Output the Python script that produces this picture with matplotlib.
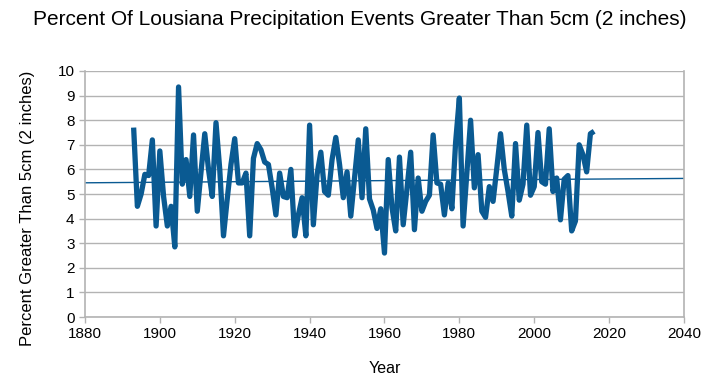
import matplotlib
matplotlib.use("Agg")
import matplotlib.pyplot as plt
import numpy as np

plt.rcParams['font.family'] = ['Liberation Sans', 'DejaVu Sans']

# annual values, 1893-2016
years = np.arange(1893, 2017)
percent = [
    7.7, 4.5, 5.0, 5.8, 5.75, 7.2, 3.7, 6.75, 4.9, 3.7,       # 1893-1902
    4.5, 2.85, 9.35, 5.4, 6.4, 4.9, 7.4, 4.3, 5.9, 7.45,     # 1903-1912
    6.0, 4.9, 7.9, 6.0, 3.3, 4.8, 6.2, 7.25, 5.45, 5.45,     # 1913-1922
    5.85, 3.3, 6.45, 7.05, 6.8, 6.3, 6.2, 5.25, 4.15, 5.85,  # 1923-1932
    4.9, 4.85, 6.0, 3.3, 4.15, 4.85, 3.3, 7.8, 3.75, 5.8,    # 1933-1942
    6.7, 5.1, 4.95, 6.4, 7.3, 6.2, 4.85, 5.9, 4.1, 5.65,     # 1943-1952
    7.2, 4.85, 7.65, 4.8, 4.35, 3.6, 4.4, 2.6, 6.4, 4.45,    # 1953-1962
    3.5, 6.5, 3.75, 5.2, 6.7, 3.55, 5.65, 4.3, 4.7, 4.95,    # 1963-1972
    7.4, 5.45, 5.4, 4.15, 5.45, 4.4, 7.1, 8.9, 3.7, 5.85,    # 1973-1982
    8.0, 5.25, 6.6, 4.3, 4.05, 5.3, 4.7, 6.05, 7.45, 6.0,    # 1983-1992
    5.1, 4.1, 7.05, 4.75, 5.4, 7.8, 4.95, 5.3, 7.5, 5.5,     # 1993-2002
    5.4, 7.65, 5.1, 5.65, 3.95, 5.6, 5.75, 3.5, 3.9, 7.0,    # 2003-2012
    6.6, 5.9, 7.45, 7.55,                                     # 2013-2016
]

line_color = '#0a5a92'
grid_color = '#b3b3b3'

fig = plt.figure(figsize=(7.2, 3.89), dpi=100)
ax = fig.add_axes([0.118, 0.185, 0.832, 0.6325])

ax.plot(years, percent, color=line_color, linewidth=3.8,
        solid_joinstyle='round', solid_capstyle='butt', zorder=3)

# linear trend over the whole axis
coef = np.polyfit(years, percent, 1)
tx = np.array([1880, 2040])
ax.plot(tx, np.polyval(coef, tx), color=line_color, linewidth=1.0, zorder=2)

ax.set_xlim(1880, 2040)
ax.set_ylim(0, 10)
ax.set_xticks(np.arange(1880, 2041, 20))
ax.set_yticks(np.arange(0, 11, 1))
ax.yaxis.grid(True, color=grid_color, linewidth=1.0)
ax.set_axisbelow(True)

for side in ['left', 'bottom', 'right']:
    ax.spines[side].set_color(grid_color)
    ax.spines[side].set_linewidth(1.2)
ax.spines['top'].set_visible(False)
ax.tick_params(axis='both', colors=grid_color, labelcolor='black',
               labelsize=11, length=4, width=1.0)

ax.set_xlabel('Year', fontsize=11.5, labelpad=14)
ax.set_ylabel('Percent Greater Than 5cm (2 inches)', fontsize=12)
ax.yaxis.set_label_coords(-0.0835, 0.44)
fig.suptitle('Percent Of Lousiana Precipitation Events Greater Than 5cm (2 inches)',
             fontsize=15, y=0.975)

fig.savefig('out.png', dpi=100)
